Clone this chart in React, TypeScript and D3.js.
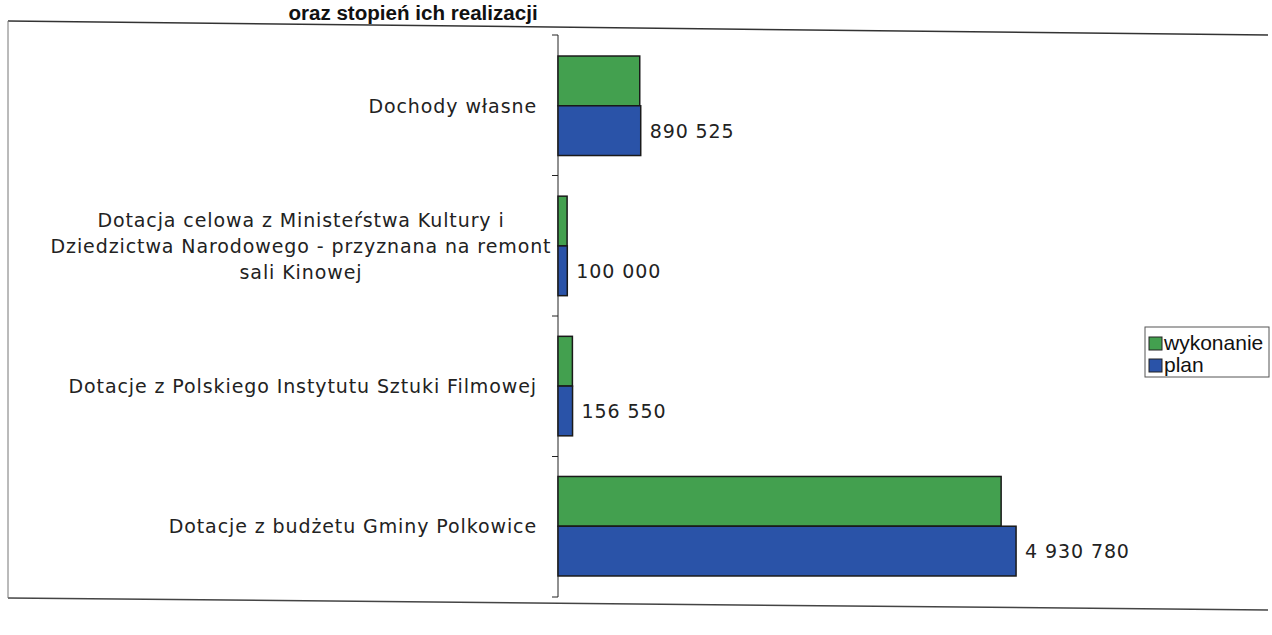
import React from "react";
import * as d3 from "d3";

const categories: string[][] = [
  ["Dochody własne"],
  ["Dotacja celowa z Ministeŕstwa Kultury i", "Dziedzictwa Narodowego - przyznana na remont", "sali Kinowej"],
  ["Dotacje z Polskiego Instytutu Sztuki Filmowej"],
  ["Dotacje z budżetu Gminy Polkowice"],
];
const planValues = [890525, 100000, 156550, 4930780];
const wykonanieValues = [880000, 98000, 155000, 4770000];
const planLabels = ["890 525", "100 000", "156 550", "4 930 780"];
const seriesNames = ["wykonanie", "plan"];
const colors = { wykonanie: "#43a04f", plan: "#2a53a8" };

export default function App() {
  const W = 1272, H = 635;
  const x0 = 558;
  const x = d3.scaleLinear().domain([0, 6000000]).range([x0, x0 + 6000000 * 9.29e-5]);
  const y = d3.scaleBand<number>().domain(d3.range(categories.length)).range([35, 597]).paddingInner(0.29).paddingOuter(0.15);
  const bw = y.bandwidth();
  const boundaries = d3.range(categories.length + 1).map((i) => 35 + (i * (597 - 35)) / categories.length);
  const font = "'DejaVu Sans', Verdana, sans-serif";
  const fs = 19;
  const ls = 0.9;

  return (
    <svg width={W} height={H} style={{ position: "absolute", left: 0, top: 0, background: "#fff" }}>
      <rect x={0} y={0} width={W} height={H} fill="#fff" />
      {/* outer frame */}
      <line x1={8} y1={21} x2={1268} y2={35} stroke="#333" strokeWidth={1.5} />
      <line x1={8} y1={598} x2={1268} y2={610} stroke="#444" strokeWidth={1.5} />
      <line x1={8} y1={21} x2={8} y2={598} stroke="#777" strokeWidth={1} />
      {/* title */}
      <text x={413} y={20} textAnchor="middle" fontFamily="'Liberation Sans', Arial, sans-serif" fontWeight="bold" fontSize={21} fill="#111" transform="translate(413 0) scale(0.98 1) translate(-413 0)">
        oraz stopień ich realizacji
      </text>
      {/* axis */}
      <line x1={x0} y1={35} x2={x0} y2={597} stroke="#222" strokeWidth={1} />
      {boundaries.map((b, i) => (
        <line key={i} x1={x0 - 6} y1={b} x2={x0} y2={b} stroke="#222" strokeWidth={1} />
      ))}
      {categories.map((lines, i) => {
        const yb = y(i)!;
        const half = bw / 2;
        const cy = yb + bw / 2;
        const lh = 26;
        return (
          <g key={i}>
            <rect x={x0} y={yb} width={x(wykonanieValues[i]) - x0} height={half} fill={colors.wykonanie} stroke="#1a1a1a" strokeWidth={1.5} />
            <rect x={x0} y={yb + half} width={x(planValues[i]) - x0} height={half} fill={colors.plan} stroke="#1a1a1a" strokeWidth={1.5} />
            <text x={x(planValues[i]) + 9} y={yb + half + half / 2 + 7} fontFamily={font} fontSize={fs} letterSpacing={ls} fill="#222">
              {planLabels[i]}
            </text>
            {lines.map((ln, j) => (
              <text key={j} x={lines.length > 1 ? 301 : 537} y={cy + 7 + (j - (lines.length - 1) / 2) * lh} textAnchor={lines.length > 1 ? "middle" : "end"} fontFamily={font} fontSize={fs} letterSpacing={ls} fill="#222">
                {ln}
              </text>
            ))}
          </g>
        );
      })}
      {/* legend */}
      <rect x={1145} y={327} width={124} height={50} fill="#fff" stroke="#555" strokeWidth={1} />
      {seriesNames.map((s, i) => (
        <g key={s}>
          <rect x={1149} y={337 + i * 22} width={13} height={13} fill={(colors as any)[s]} stroke="#222" strokeWidth={1} />
          <text x={1164} y={350 + i * 22} fontFamily="'Liberation Sans', Arial, sans-serif" fontSize={21} fill="#111">
            {s}
          </text>
        </g>
      ))}
    </svg>
  );
}
